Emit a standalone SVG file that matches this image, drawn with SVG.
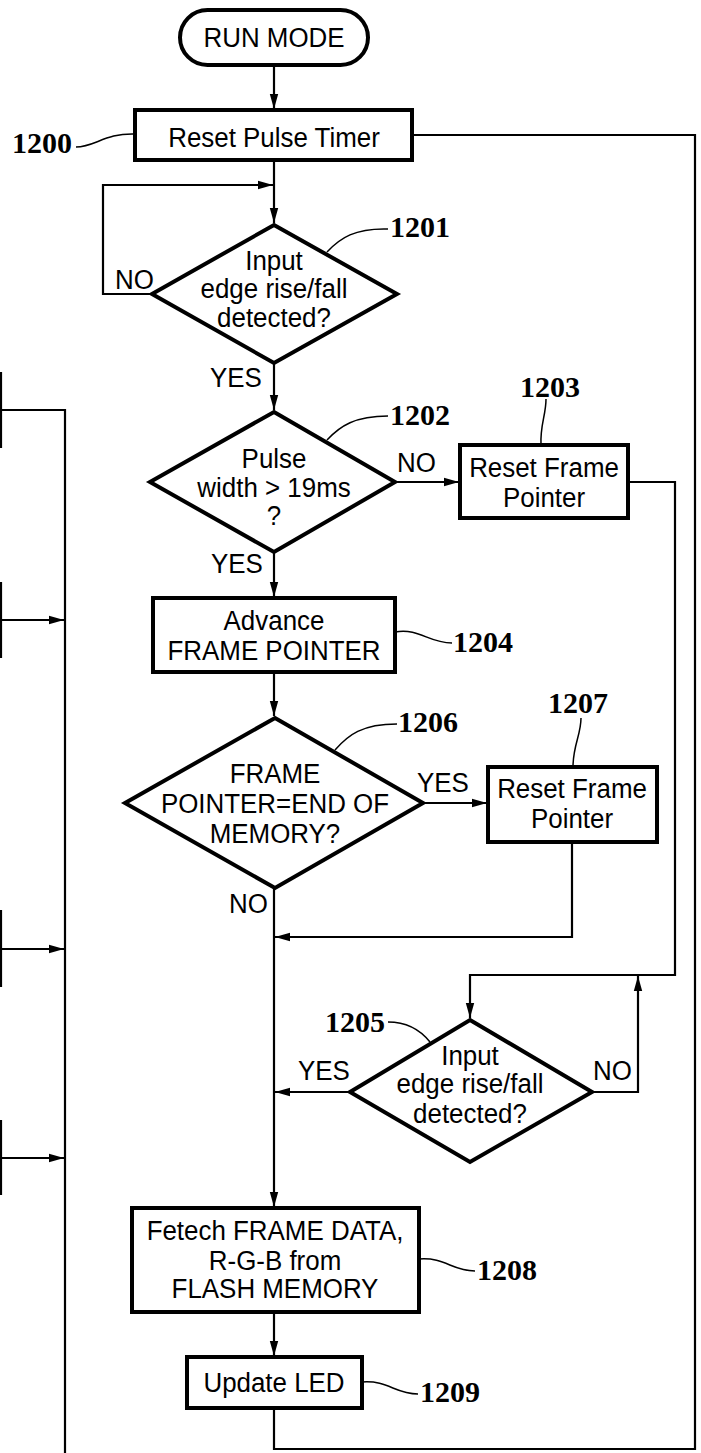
<svg xmlns="http://www.w3.org/2000/svg" width="701" height="1453" viewBox="0 0 701 1453">
<style>
.box{fill:#fff;stroke:#000;stroke-width:4}
.ln{fill:none;stroke:#000;stroke-width:2.2}
.ld{fill:none;stroke:#000;stroke-width:1.5}
.t{font-family:"Liberation Sans",Arial,sans-serif;font-size:27px;text-anchor:middle;fill:#000}
.tl{font-family:"Liberation Sans",Arial,sans-serif;font-size:27px;fill:#000}
.ref{font-family:"Liberation Serif","Times New Roman",serif;font-size:30px;font-weight:bold;fill:#000}
</style>
<defs>
<marker id="ah" markerWidth="16" markerHeight="10" refX="15" refY="5" orient="auto" markerUnits="userSpaceOnUse">
<path d="M0,0.8 L15,5 L0,9.2 Z" fill="#000"/>
</marker>
</defs>
<rect width="701" height="1453" fill="#fff"/>
<g id="connectors">
<path class="ln" d="M274,65 V109" marker-end="url(#ah)"/>
<path class="ln" d="M274,160 V223" marker-end="url(#ah)"/>
<path class="ln" d="M152,294 H103 V185 H273" marker-end="url(#ah)"/>
<path class="ln" d="M274,363 V410" marker-end="url(#ah)"/>
<path class="ln" d="M395,482 H459" marker-end="url(#ah)"/>
<path class="ln" d="M274,552 V597" marker-end="url(#ah)"/>
<path class="ln" d="M274,672 V716" marker-end="url(#ah)"/>
<path class="ln" d="M423,803 H487" marker-end="url(#ah)"/>
<path class="ln" d="M274,888 V1207" marker-end="url(#ah)"/>
<path class="ln" d="M572,842 V937 H275" marker-end="url(#ah)"/>
<path class="ln" d="M628,482 H675 V975 H470 V1018" marker-end="url(#ah)"/>
<path class="ln" d="M592,1092 H638 V976" marker-end="url(#ah)"/>
<path class="ln" d="M350,1092 H275" marker-end="url(#ah)"/>
<path class="ln" d="M274,1312 V1356" marker-end="url(#ah)"/>
<path class="ln" d="M274,1408 V1449 H695 V135 H412"/>
<path class="ln" d="M65,1453 V410 H0"/>
<path class="ln" d="M1,372 V448 M1,582 V658 M1,910 V987 M1,1120 V1195"/>
<path class="ln" d="M1,620 H64" marker-end="url(#ah)"/>
<path class="ln" d="M1,949 H64" marker-end="url(#ah)"/>
<path class="ln" d="M1,1158 H64" marker-end="url(#ah)"/>
</g>
<g id="run-mode">
<rect class="box" x="180" y="10" width="188" height="55" rx="27.5"/>
<text class="t" x="0" y="47" transform="translate(274 0) scale(0.96 1)">RUN MODE</text>
</g>
<g id="n1200">
<rect class="box" x="135" y="110" width="277" height="50"/>
<text class="t" x="0" y="147" transform="translate(274 0) scale(0.96 1)">Reset Pulse Timer</text>
<path class="ld" d="M76,147 C95,147 105,133 135,134"/>
<text class="ref" x="12" y="153">1200</text>
</g>
<g id="n1201">
<polygon class="box" points="274,225 397,294 274,363 152,294"/>
<text class="t" x="0" y="270" transform="translate(274 0) scale(0.96 1)">Input</text>
<text class="t" x="0" y="298" transform="translate(274 0) scale(0.96 1)">edge rise/fall</text>
<text class="t" x="0" y="327" transform="translate(274 0) scale(0.96 1)">detected?</text>
<text class="tl" x="0" y="289" transform="translate(115 0) scale(0.96 1)">NO</text>
<text class="tl" x="0" y="387" transform="translate(210 0) scale(0.96 1)">YES</text>
<path class="ld" d="M327,252 C340,238 355,228 388,229"/>
<text class="ref" x="390" y="237">1201</text>
</g>
<g id="n1202">
<polygon class="box" points="274,412 395,482 274,552 150,482"/>
<text class="t" x="0" y="468" transform="translate(274 0) scale(0.96 1)">Pulse</text>
<text class="t" x="0" y="497" transform="translate(274 0) scale(0.96 1)">width &gt; 19ms</text>
<text class="t" x="0" y="525" transform="translate(274 0) scale(0.96 1)">?</text>
<text class="tl" x="0" y="472" transform="translate(397 0) scale(0.96 1)">NO</text>
<text class="tl" x="0" y="573" transform="translate(211 0) scale(0.96 1)">YES</text>
<path class="ld" d="M327,440 C340,426 355,416 388,416"/>
<text class="ref" x="390" y="425">1202</text>
</g>
<g id="n1203">
<rect class="box" x="460" y="445" width="168" height="73"/>
<text class="t" x="0" y="477" transform="translate(544 0) scale(0.96 1)">Reset Frame</text>
<text class="t" x="0" y="507" transform="translate(544 0) scale(0.96 1)">Pointer</text>
<path class="ld" d="M546,399 C546,415 540,425 541,445"/>
<text class="ref" x="520" y="397">1203</text>
</g>
<g id="n1204">
<rect class="box" x="153" y="598" width="242" height="74"/>
<text class="t" x="0" y="630" transform="translate(274 0) scale(0.96 1)">Advance</text>
<text class="t" x="0" y="660" transform="translate(274 0) scale(0.96 1)">FRAME POINTER</text>
<path class="ld" d="M395,632 C420,628 428,643 452,643"/>
<text class="ref" x="453" y="652">1204</text>
</g>
<g id="n1206">
<polygon class="box" points="275,718 423,803 275,888 125,803"/>
<text class="t" x="0" y="783" transform="translate(275 0) scale(0.96 1)">FRAME</text>
<text class="t" x="0" y="813" transform="translate(275 0) scale(0.96 1)">POINTER=END OF</text>
<text class="t" x="0" y="843" transform="translate(275 0) scale(0.96 1)">MEMORY?</text>
<text class="tl" x="0" y="792" transform="translate(417 0) scale(0.96 1)">YES</text>
<text class="tl" x="0" y="913" transform="translate(229 0) scale(0.96 1)">NO</text>
<path class="ld" d="M335,750 C348,735 362,724 397,724"/>
<text class="ref" x="398" y="732">1206</text>
</g>
<g id="n1207">
<rect class="box" x="488" y="767" width="169" height="75"/>
<text class="t" x="0" y="798" transform="translate(572 0) scale(0.96 1)">Reset Frame</text>
<text class="t" x="0" y="828" transform="translate(572 0) scale(0.96 1)">Pointer</text>
<path class="ld" d="M581,718 C581,735 573,745 573,767"/>
<text class="ref" x="548" y="713">1207</text>
</g>
<g id="n1205">
<polygon class="box" points="470,1020 592,1092 470,1162 350,1092"/>
<text class="t" x="0" y="1065" transform="translate(470 0) scale(0.96 1)">Input</text>
<text class="t" x="0" y="1093" transform="translate(470 0) scale(0.96 1)">edge rise/fall</text>
<text class="t" x="0" y="1123" transform="translate(470 0) scale(0.96 1)">detected?</text>
<text class="tl" x="0" y="1080" transform="translate(298 0) scale(0.96 1)">YES</text>
<text class="tl" x="0" y="1080" transform="translate(593 0) scale(0.96 1)">NO</text>
<path class="ld" d="M388,1022 C410,1022 422,1032 430,1042"/>
<text class="ref" x="325" y="1032">1205</text>
</g>
<g id="n1208">
<rect class="box" x="132" y="1208" width="287" height="104"/>
<text class="t" x="0" y="1240" transform="translate(275 0) scale(0.96 1)">Fetech FRAME DATA,</text>
<text class="t" x="0" y="1270" transform="translate(275 0) scale(0.96 1)">R-G-B from</text>
<text class="t" x="0" y="1298" transform="translate(275 0) scale(0.96 1)">FLASH MEMORY</text>
<path class="ld" d="M419,1259 C445,1257 452,1271 475,1271"/>
<text class="ref" x="477" y="1280">1208</text>
</g>
<g id="n1209">
<rect class="box" x="187" y="1357" width="175" height="51"/>
<text class="t" x="0" y="1392" transform="translate(274 0) scale(0.96 1)">Update LED</text>
<path class="ld" d="M362,1382 C388,1380 395,1394 418,1394"/>
<text class="ref" x="420" y="1402">1209</text>
</g>
</svg>
